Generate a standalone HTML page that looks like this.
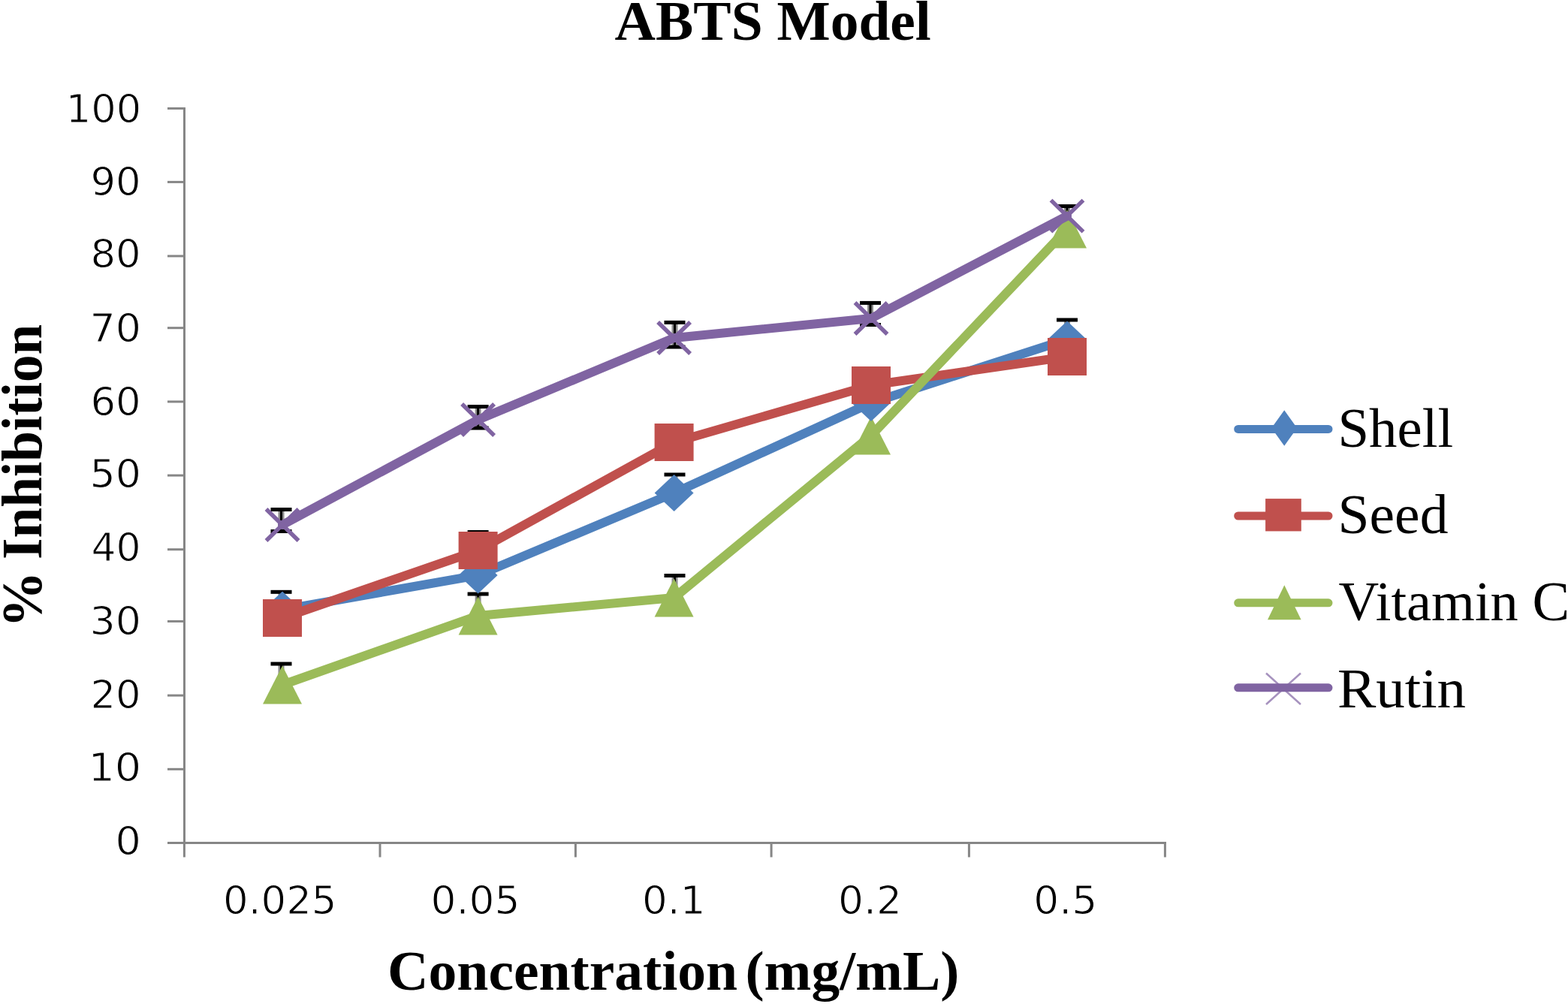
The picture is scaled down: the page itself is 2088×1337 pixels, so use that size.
<!DOCTYPE html><html><head><meta charset="utf-8"><title>ABTS Model</title><style>html,body{margin:0;padding:0;background:#fff;overflow:hidden}svg{display:block}</style></head><body>
<svg width="2088" height="1337" viewBox="0 0 2088 1337">
<rect width="2088" height="1337" fill="#fff"/>
<g stroke="#868686" stroke-width="3" fill="none"><line x1="245.5" y1="142.9" x2="245.5" y2="1122.5"/><line x1="223.0" y1="1122.5" x2="1553.0" y2="1122.5"/><line x1="223" y1="1122.5" x2="245.5" y2="1122.5"/><line x1="223" y1="1024.3" x2="245.5" y2="1024.3"/><line x1="223" y1="926.1" x2="245.5" y2="926.1"/><line x1="223" y1="827.4" x2="245.5" y2="827.4"/><line x1="223" y1="731.7" x2="245.5" y2="731.7"/><line x1="223" y1="633.1" x2="245.5" y2="633.1"/><line x1="223" y1="534.9" x2="245.5" y2="534.9"/><line x1="223" y1="436.7" x2="245.5" y2="436.7"/><line x1="223" y1="341.0" x2="245.5" y2="341.0"/><line x1="223" y1="242.4" x2="245.5" y2="242.4"/><line x1="223" y1="144.4" x2="245.5" y2="144.4"/><line x1="245.4" y1="1122.5" x2="245.4" y2="1141.5"/><line x1="506.0" y1="1122.5" x2="506.0" y2="1141.5"/><line x1="766.4" y1="1122.5" x2="766.4" y2="1141.5"/><line x1="1027.1" y1="1122.5" x2="1027.1" y2="1141.5"/><line x1="1290.4" y1="1122.5" x2="1290.4" y2="1141.5"/><line x1="1551.4" y1="1122.5" x2="1551.4" y2="1141.5"/></g>
<text x="818.5" y="53.2" font-family="Liberation Serif, serif" font-weight="bold" font-size="75.0" textLength="421.3" lengthAdjust="spacingAndGlyphs">ABTS Model</text>
<text x="516.0" y="1317.8" font-family="Liberation Serif, serif" font-weight="bold" font-size="75.0" textLength="466.0" lengthAdjust="spacingAndGlyphs">Concentration</text>
<text x="992.5" y="1317.8" font-family="Liberation Serif, serif" font-weight="bold" font-size="75.0" textLength="284.8" lengthAdjust="spacingAndGlyphs">(mg/mL)</text>
<text transform="translate(54.5,745.0) rotate(-90)" font-family="Liberation Serif, serif" font-weight="bold" font-size="76.5" textLength="313.3" lengthAdjust="spacingAndGlyphs">Inhibition</text>
<text transform="translate(54.5,836.0) rotate(-90)" font-family="Liberation Serif, serif" font-weight="bold" font-size="76.5" textLength="75.3" lengthAdjust="spacingAndGlyphs">%</text>
<text x="1781.5" y="594.7" font-family="Liberation Serif, serif" font-size="74.0" textLength="153.7" lengthAdjust="spacingAndGlyphs">Shell</text>
<text x="1781.5" y="709.8" font-family="Liberation Serif, serif" font-size="74.0" textLength="147.0" lengthAdjust="spacingAndGlyphs">Seed</text>
<text x="1782.5" y="825.8" font-family="Liberation Serif, serif" font-size="74.0" textLength="307.5" lengthAdjust="spacingAndGlyphs">Vitamin C</text>
<text x="1781.0" y="941.5" font-family="Liberation Serif, serif" font-size="74.0" textLength="171.1" lengthAdjust="spacingAndGlyphs">Rutin</text>
<text x="297.0" y="1217.0" font-family="DejaVu Sans, sans-serif" stroke="#fff" stroke-width="1.00" font-size="52.0" textLength="151.5" lengthAdjust="spacingAndGlyphs">0.025</text>
<text x="573.4" y="1217.0" font-family="DejaVu Sans, sans-serif" stroke="#fff" stroke-width="1.00" font-size="52.0" textLength="119.0" lengthAdjust="spacingAndGlyphs">0.05</text>
<text x="855.0" y="1217.0" font-family="DejaVu Sans, sans-serif" stroke="#fff" stroke-width="1.00" font-size="52.0" textLength="84.4" lengthAdjust="spacingAndGlyphs">0.1</text>
<text x="1116.0" y="1217.0" font-family="DejaVu Sans, sans-serif" stroke="#fff" stroke-width="1.00" font-size="52.0" textLength="85.0" lengthAdjust="spacingAndGlyphs">0.2</text>
<text x="1376.2" y="1217.0" font-family="DejaVu Sans, sans-serif" stroke="#fff" stroke-width="1.00" font-size="52.0" textLength="85.0" lengthAdjust="spacingAndGlyphs">0.5</text>
<text x="153.4" y="1138.0" font-family="DejaVu Sans, sans-serif" stroke="#fff" stroke-width="1.00" font-size="52.0" textLength="34.4" lengthAdjust="spacingAndGlyphs">0</text>
<text x="117.4" y="1039.6" font-family="DejaVu Sans, sans-serif" stroke="#fff" stroke-width="1.00" font-size="52.0" textLength="70.9" lengthAdjust="spacingAndGlyphs">10</text>
<text x="120.4" y="943.2" font-family="DejaVu Sans, sans-serif" stroke="#fff" stroke-width="1.00" font-size="52.0" textLength="67.3" lengthAdjust="spacingAndGlyphs">20</text>
<text x="119.4" y="845.2" font-family="DejaVu Sans, sans-serif" stroke="#fff" stroke-width="1.00" font-size="52.0" textLength="68.5" lengthAdjust="spacingAndGlyphs">30</text>
<text x="121.4" y="746.6" font-family="DejaVu Sans, sans-serif" stroke="#fff" stroke-width="1.00" font-size="52.0" textLength="66.2" lengthAdjust="spacingAndGlyphs">40</text>
<text x="119.4" y="648.6" font-family="DejaVu Sans, sans-serif" stroke="#fff" stroke-width="1.00" font-size="52.0" textLength="68.5" lengthAdjust="spacingAndGlyphs">50</text>
<text x="120.4" y="553.2" font-family="DejaVu Sans, sans-serif" stroke="#fff" stroke-width="1.00" font-size="52.0" textLength="67.3" lengthAdjust="spacingAndGlyphs">60</text>
<text x="119.4" y="454.6" font-family="DejaVu Sans, sans-serif" stroke="#fff" stroke-width="1.00" font-size="52.0" textLength="68.5" lengthAdjust="spacingAndGlyphs">70</text>
<text x="120.4" y="355.8" font-family="DejaVu Sans, sans-serif" stroke="#fff" stroke-width="1.00" font-size="52.0" textLength="67.3" lengthAdjust="spacingAndGlyphs">80</text>
<text x="120.4" y="260.4" font-family="DejaVu Sans, sans-serif" stroke="#fff" stroke-width="1.00" font-size="52.0" textLength="67.3" lengthAdjust="spacingAndGlyphs">90</text>
<text x="87.8" y="163.0" font-family="DejaVu Sans, sans-serif" stroke="#fff" stroke-width="1.00" font-size="52.0" textLength="100.4" lengthAdjust="spacingAndGlyphs">100</text>
<g fill="#000"><rect x="370.5" y="678.5" width="8" height="29.0" fill="#8c8c8c"/><rect x="373.0" y="678.5" width="3" height="29.0"/><rect x="360.5" y="676.0" width="28" height="5"/><rect x="360.5" y="705.0" width="28" height="5"/></g>
<g fill="#000"><rect x="632.6" y="541.5" width="8" height="28.5" fill="#8c8c8c"/><rect x="635.1" y="541.5" width="3" height="28.5"/><rect x="622.6" y="539.0" width="28" height="5"/><rect x="622.6" y="567.5" width="28" height="5"/></g>
<g fill="#000"><rect x="894.5" y="429.4" width="8" height="32.6" fill="#8c8c8c"/><rect x="897.0" y="429.4" width="3" height="32.6"/><rect x="884.5" y="426.9" width="28" height="5"/><rect x="884.5" y="459.5" width="28" height="5"/></g>
<g fill="#000"><rect x="1155.0" y="403.4" width="8" height="29.1" fill="#8c8c8c"/><rect x="1157.5" y="403.4" width="3" height="29.1"/><rect x="1145.0" y="400.9" width="28" height="5"/><rect x="1145.0" y="430.0" width="28" height="5"/></g>
<g fill="#000"><rect x="1417.0" y="274.6" width="8" height="13.0" fill="#8c8c8c"/><rect x="1419.5" y="274.6" width="3" height="13.0"/><rect x="1407.0" y="272.1" width="28" height="5"/></g>
<g fill="#000"><rect x="370.5" y="788.3" width="8" height="23.7" fill="#8c8c8c"/><rect x="373.0" y="788.3" width="3" height="23.7"/><rect x="360.5" y="785.8" width="28" height="5"/></g>
<g fill="#000"><rect x="894.5" y="632.0" width="8" height="24.5" fill="#8c8c8c"/><rect x="897.0" y="632.0" width="3" height="24.5"/><rect x="884.5" y="629.5" width="28" height="5"/></g>
<g fill="#000"><rect x="1417.0" y="426.0" width="8" height="26.0" fill="#8c8c8c"/><rect x="1419.5" y="426.0" width="3" height="26.0"/><rect x="1407.0" y="423.5" width="28" height="5"/></g>
<g fill="#000"><rect x="632.6" y="708.5" width="8" height="24.5" fill="#8c8c8c"/><rect x="635.1" y="708.5" width="3" height="24.5"/><rect x="622.6" y="706.0" width="28" height="5"/></g>
<g fill="#000"><rect x="370.5" y="884.0" width="8" height="28.0" fill="#8c8c8c"/><rect x="373.0" y="884.0" width="3" height="28.0"/><rect x="360.5" y="881.5" width="28" height="5"/></g>
<g fill="#000"><rect x="632.6" y="791.0" width="8" height="29.0" fill="#8c8c8c"/><rect x="635.1" y="791.0" width="3" height="29.0"/><rect x="622.6" y="788.5" width="28" height="5"/></g>
<g fill="#000"><rect x="894.5" y="766.5" width="8" height="29.5" fill="#8c8c8c"/><rect x="897.0" y="766.5" width="3" height="29.5"/><rect x="884.5" y="764.0" width="28" height="5"/></g>
<polyline points="376.0,812.0 636.6,766.0 897.6,656.5 1160.0,536.5 1421.0,452.0" fill="none" stroke="#4F81BD" stroke-width="12" stroke-linejoin="round" stroke-linecap="round"/>
<polyline points="376.0,823.0 636.6,733.0 897.6,589.0 1160.0,513.0 1421.0,475.0" fill="none" stroke="#C0504D" stroke-width="12" stroke-linejoin="round" stroke-linecap="round"/>
<polyline points="376.0,912.0 636.6,820.0 897.6,796.0 1160.0,580.0 1421.0,305.0" fill="none" stroke="#9BBB59" stroke-width="12" stroke-linejoin="round" stroke-linecap="round"/>
<polygon points="376.0,886.5 402.0,937.5 350.0,937.5" fill="#9BBB59"/>
<polygon points="636.6,794.5 662.6,845.5 610.6,845.5" fill="#9BBB59"/>
<polygon points="897.6,770.5 923.6,821.5 871.6,821.5" fill="#9BBB59"/>
<polygon points="1160.0,554.5 1186.0,605.5 1134.0,605.5" fill="#9BBB59"/>
<polygon points="1421.0,279.5 1447.0,330.5 1395.0,330.5" fill="#9BBB59"/>
<polygon points="376.0,787.5 402.0,812.0 376.0,836.5 350.0,812.0" fill="#4F81BD"/>
<polygon points="636.6,741.5 662.6,766.0 636.6,790.5 610.6,766.0" fill="#4F81BD"/>
<polygon points="897.6,632.0 923.6,656.5 897.6,681.0 871.6,656.5" fill="#4F81BD"/>
<polygon points="1160.0,512.0 1186.0,536.5 1160.0,561.0 1134.0,536.5" fill="#4F81BD"/>
<polygon points="1421.0,427.5 1447.0,452.0 1421.0,476.5 1395.0,452.0" fill="#4F81BD"/>
<rect x="350.0" y="798.0" width="52.0" height="50.0" fill="#C0504D"/>
<rect x="610.6" y="708.0" width="52.0" height="50.0" fill="#C0504D"/>
<rect x="871.6" y="564.0" width="52.0" height="50.0" fill="#C0504D"/>
<rect x="1134.0" y="488.0" width="52.0" height="50.0" fill="#C0504D"/>
<rect x="1395.0" y="450.0" width="52.0" height="50.0" fill="#C0504D"/>
<polyline points="376.0,699.0 636.6,559.0 897.6,450.0 1160.0,424.0 1421.0,287.6" fill="none" stroke="#8064A2" stroke-width="12" stroke-linejoin="round" stroke-linecap="round"/>
<path d="M354.5 678.0L397.5 720.0M354.5 720.0L397.5 678.0" stroke="#8064A2" stroke-width="5.5" fill="none"/>
<path d="M615.1 538.0L658.1 580.0M615.1 580.0L658.1 538.0" stroke="#8064A2" stroke-width="5.5" fill="none"/>
<path d="M876.1 429.0L919.1 471.0M876.1 471.0L919.1 429.0" stroke="#8064A2" stroke-width="5.5" fill="none"/>
<path d="M1138.5 403.0L1181.5 445.0M1138.5 445.0L1181.5 403.0" stroke="#8064A2" stroke-width="5.5" fill="none"/>
<path d="M1399.5 266.6L1442.5 308.6M1399.5 308.6L1442.5 266.6" stroke="#8064A2" stroke-width="5.5" fill="none"/>
<line x1="1648.7" y1="571.4" x2="1769" y2="571.4" stroke="#4F81BD" stroke-width="11" stroke-linecap="round"/>
<line x1="1648.7" y1="687.0" x2="1769" y2="687.0" stroke="#C0504D" stroke-width="11" stroke-linecap="round"/>
<line x1="1648.7" y1="802.8" x2="1769" y2="802.8" stroke="#9BBB59" stroke-width="11" stroke-linecap="round"/>
<line x1="1648.7" y1="915.8" x2="1769" y2="915.8" stroke="#8064A2" stroke-width="11" stroke-linecap="round"/>
<polygon points="1710.2,546.2 1727.2,570.0 1710.2,593.8 1693.2,570.0" fill="#4F81BD"/>
<rect x="1685.1" y="664.1" width="47.7" height="43.3" fill="#C0504D"/>
<polygon points="1710.3,779.3 1732.6,825.3 1688.0,825.3" fill="#9BBB59"/>
<path d="M1686 896.5L1732 938M1686 938L1732 896.5" stroke="#8064A2" stroke-width="2.5" fill="none" opacity="0.7"/>
</svg></body></html>
